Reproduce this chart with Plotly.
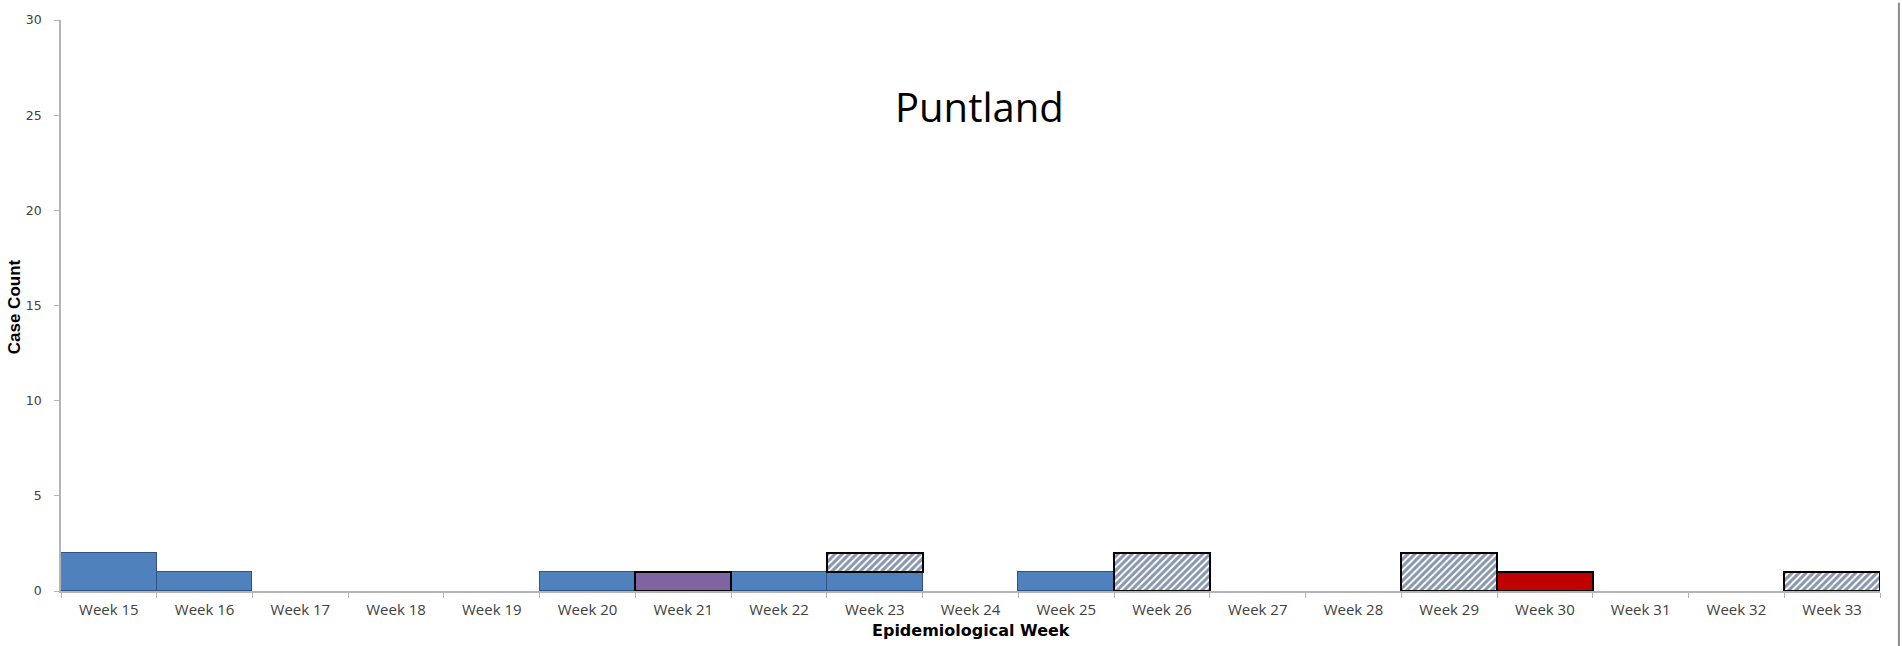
import plotly.graph_objects as go

weeks = [f"Week {w}" for w in range(15, 34)]
# case counts per week by category
blue_cases =    [2, 1, 0, 0, 0, 1, 0, 1, 1, 0, 1, 0, 0, 0, 0, 0, 0, 0, 0]
purple_cases =  [0, 0, 0, 0, 0, 0, 1, 0, 0, 0, 0, 0, 0, 0, 0, 0, 0, 0, 0]
red_cases =     [0, 0, 0, 0, 0, 0, 0, 0, 0, 0, 0, 0, 0, 0, 0, 1, 0, 0, 0]
hatched_cases = [0, 0, 0, 0, 0, 0, 0, 0, 1, 0, 0, 2, 0, 0, 2, 0, 0, 0, 1]
y_ticks = [0, 5, 10, 15, 20, 25, 30]


def nz(vals):
    return [v if v else None for v in vals]


fig = go.Figure()
fig.add_trace(go.Bar(x=weeks, y=nz(blue_cases), name="blue",
                     marker=dict(color="#4F81BD", line=dict(color="#2F5483", width=1.2))))
fig.add_trace(go.Bar(x=weeks, y=nz(purple_cases), name="purple",
                     marker=dict(color="#8064A2", line=dict(color="#000000", width=2))))
fig.add_trace(go.Bar(x=weeks, y=nz(red_cases), name="red",
                     marker=dict(color="#C00000", line=dict(color="#000000", width=2))))
fig.add_trace(go.Bar(x=weeks, y=nz(hatched_cases), name="hatched",
                     marker=dict(color="#FFFFFF",
                                 pattern=dict(shape="/", fgcolor="#14305A", bgcolor="#FFFFFF",
                                              size=5, solidity=0.62, fillmode="overlay"),
                                 line=dict(color="#000000", width=2))))

axis_gray = "#B4B4B4"
fig.update_layout(
    width=1902, height=646,
    barmode="stack", bargap=0,
    showlegend=False,
    plot_bgcolor="white", paper_bgcolor="white",
    margin=dict(l=61, r=22, t=13, b=55),
    xaxis=dict(type="category", showgrid=False, showline=True, linecolor=axis_gray, linewidth=1.5,
               ticks="outside", tickson="boundaries", ticklen=5, tickcolor=axis_gray,
               tickfont=dict(family="Open Sans", size=15, color="#404040"),
               ticklabelstandoff=4),
    yaxis=dict(range=[0, 30], tickvals=y_ticks, showgrid=False, zeroline=False, showline=True,
               linecolor=axis_gray, linewidth=1.5, ticks="outside", ticklen=5, tickcolor=axis_gray,
               tickfont=dict(family="DejaVu Sans", size=12.5, color="#404040"),
               ticklabelstandoff=10),
    annotations=[
        dict(text="Puntland", xref="paper", yref="paper", x=0.505, y=0.848,
             xanchor="center", yanchor="middle", showarrow=False,
             font=dict(family="Open Sans", size=40, color="#000000")),
        dict(text="<b>Epidemiological Week</b>", xref="paper", yref="paper", x=0.5, y=-0.069,
             xanchor="center", yanchor="middle", showarrow=False,
             font=dict(family="DejaVu Sans", size=16, color="#000000")),
        dict(text="<b>Case Count</b>", xref="paper", yref="paper", x=-0.0255, y=0.498,
             xanchor="center", yanchor="middle", showarrow=False, textangle=-90,
             font=dict(family="Liberation Sans", size=17, color="#000000")),
    ],
    shapes=[dict(type="line", xref="paper", yref="paper", x0=1.0104, x1=1.0104,
                 y0=-0.1, y1=1.03, line=dict(color="#8C8C8C", width=2))],
)

fig.write_html("out.html")
